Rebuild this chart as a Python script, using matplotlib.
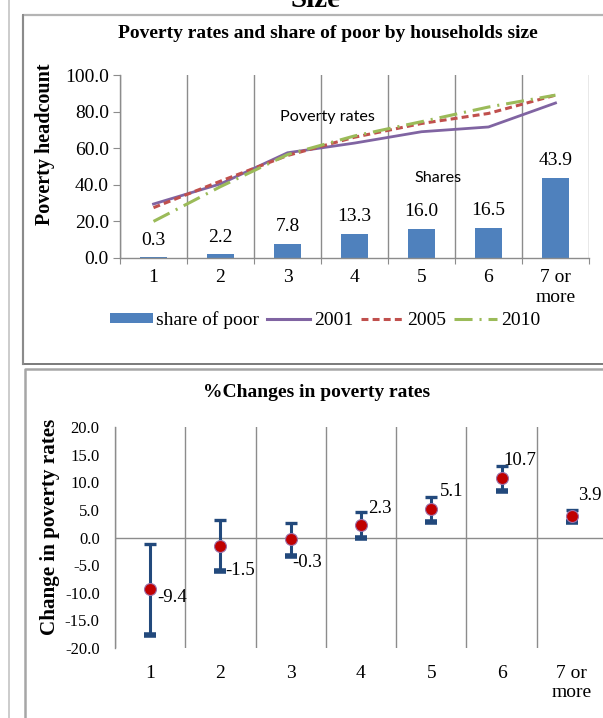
import matplotlib
matplotlib.use("Agg")
import matplotlib.pyplot as plt
from matplotlib.lines import Line2D
from matplotlib.patches import Patch
from matplotlib.ticker import FixedLocator, NullFormatter

plt.rcParams["font.family"] = ["Liberation Serif", "DejaVu Serif"]
plt.rcParams["lines.scale_dashes"] = False

# ---- data ----
categories = ["1", "2", "3", "4", "5", "6", "7 or\nmore"]
share_of_poor = [0.3, 2.2, 7.8, 13.3, 16.0, 16.5, 43.9]
rate_2001 = [29.5, 40.5, 57.5, 62.8, 69.0, 71.6, 84.7]
rate_2005 = [27.5, 42.0, 56.0, 66.0, 73.5, 79.0, 89.0]
rate_2010 = [20.0, 39.0, 56.5, 66.7, 74.5, 82.5, 89.0]
change_rates = [-9.4, -1.5, -0.3, 2.3, 5.1, 10.7, 3.9]
change_err = [8.2, 4.6, 3.0, 2.4, 2.3, 2.3, 1.1]

W, H = 603, 718
fig = plt.figure(figsize=(W / 100, H / 100), dpi=100)


def fx(px):
    return px / W


def fy(py):
    return 1 - py / H


GRID = "#8c8c8c"
FS = 14
xs = list(range(1, len(categories) + 1))
bounds = [i + 0.5 for i in range(0, len(categories) + 1)]

# ---- page decorations: frames around the two charts ----
fig.add_artist(Line2D([fx(8.5), fx(8.5)], [0, 1], transform=fig.transFigure,
                      color="#c4c4c4", lw=1.2))
fig.add_artist(Line2D([fx(23), fx(23), fx(610)], [fy(364), fy(15), fy(15)],
                      transform=fig.transFigure, color="#b4b4b4", lw=1.6))
fig.add_artist(Line2D([fx(23), fx(610)], [fy(364), fy(364)],
                      transform=fig.transFigure, color="#7a7a7a", lw=1.4))
fig.add_artist(Line2D([fx(23), fx(23)], [fy(364), fy(15)],
                      transform=fig.transFigure, color="#8a8a8a", lw=1.4))
fig.add_artist(Line2D([fx(25), fx(25), fx(610)], [fy(730), fy(369), fy(369)],
                      transform=fig.transFigure, color="#a6a6a6", lw=1.8))

fig.text(fx(315), fy(7.0), "Size", ha="center", va="baseline",
         fontsize=21, fontweight="bold")

# ---- top chart: poverty rates and share of poor ----
ax1 = fig.add_axes([fx(120), fy(258), fx(589) - fx(120), (258 - 75) / H])
ax1.set_xlim(0.5, len(categories) + 0.5)
ax1.set_ylim(0, 100)

ax1.bar(xs, share_of_poor, width=0.4, color="#4F81BD", zorder=2)
for x, v in zip(xs, share_of_poor):
    ax1.annotate(f"{v:.1f}", (x, v), xytext=(0, 6), textcoords="offset points",
                 ha="center", va="bottom", fontsize=FS)

ax1.plot(xs, rate_2001, color="#8064A2", lw=2.0, zorder=3)
ax1.plot(xs, rate_2005, color="#C0504D", lw=2.2, dashes=(5, 3), zorder=3)
ax1.plot(xs, rate_2010, color="#9BBB59", lw=2.2, dashes=(13, 5, 1.5, 5), zorder=3)

ax1.text(3.6, 77, "Poverty rates", family="Lato", fontsize=11.6,
         ha="center", va="center")
ax1.text(5.25, 43.5, "Shares", family="Lato", fontsize=11.6,
         ha="center", va="center")

ax1.xaxis.set_major_locator(FixedLocator(bounds))
ax1.xaxis.set_major_formatter(NullFormatter())
ax1.xaxis.set_minor_locator(FixedLocator(xs))
ax1.set_xticklabels(categories, minor=True)
ax1.tick_params(axis="x", which="minor", length=0, pad=8, labelsize=FS)
ax1.tick_params(axis="x", which="major", length=4, color=GRID)
ax1.set_yticks([0, 20, 40, 60, 80, 100])
ax1.set_yticklabels([f"{t:.1f}" for t in [0, 20, 40, 60, 80, 100]])
ax1.tick_params(axis="y", length=5, color=GRID, labelsize=FS, pad=3)
ax1.grid(axis="x", which="major", color=GRID, lw=1.0)
ax1.set_axisbelow(True)
for s in ["top", "right"]:
    ax1.spines[s].set_visible(False)
for s in ["left", "bottom"]:
    ax1.spines[s].set_color(GRID)
    ax1.spines[s].set_linewidth(1.0)

fig.text(fx(328), fy(33), "Poverty rates and share of poor by households size",
         ha="center", va="center", fontsize=14, fontweight="bold")
fig.text(fx(45), fy(144), "Poverty headcount", rotation=90, ha="center",
         va="center", fontsize=14.5, fontweight="bold")

handles = [
    Patch(facecolor="#4F81BD", edgecolor="none"),
    Line2D([], [], color="#8064A2", lw=2.2),
    Line2D([], [], color="#C0504D", lw=2.2, dashes=(5, 3)),
    Line2D([], [], color="#9BBB59", lw=2.2, dashes=(13, 5, 1.5, 5)),
]
fig.legend(handles, ["share of poor", "2001", "2005", "2010"], ncol=4,
           loc="center", bbox_to_anchor=(fx(325), fy(320)), frameon=False,
           fontsize=FS, handlelength=2.2, handleheight=0.42,
           handletextpad=0.2, columnspacing=0.4, borderaxespad=0)

# ---- bottom chart: changes in poverty rates ----
ax2 = fig.add_axes([fx(115), fy(648), fx(607) - fx(115), (648 - 427) / H])
ax2.set_xlim(0.5, len(categories) + 0.5)
ax2.set_ylim(-20, 20)

ax2.axhline(0, color=GRID, lw=1.0, zorder=1)
lower = [v - e for v, e in zip(change_rates, change_err)]
upper = [v + e for v, e in zip(change_rates, change_err)]
ECOL = "#22497C"
ax2.vlines(xs, lower, upper, color=ECOL, lw=2.2, zorder=2)
ax2.plot(xs, upper, ls="none", marker="_", ms=9, mew=2.4, color=ECOL, zorder=2)
ax2.plot(xs, lower, ls="none", marker="_", ms=9, mew=4.0, color=ECOL, zorder=2)
ax2.plot(xs, change_rates, ls="none", marker="o", ms=8.6, mfc="#C00000",
         mec="#9B6FA8", mew=0.8, zorder=3)

label_offsets = [(5, -6), (3.5, -18), (1, -16.5), (5, 11.5), (6.5, 13),
                 (1, 13), (4.5, 14.5)]
for x, v, off in zip(xs, change_rates, label_offsets):
    ax2.annotate(f"{v:.1f}", (x, v), xytext=off, textcoords="offset points",
                 ha="left", va="center", fontsize=13.5)

ax2.xaxis.set_major_locator(FixedLocator(bounds))
ax2.xaxis.set_major_formatter(NullFormatter())
ax2.xaxis.set_minor_locator(FixedLocator(xs))
ax2.set_xticklabels(categories, minor=True)
ax2.tick_params(axis="x", which="both", length=0)
ax2.tick_params(axis="x", which="minor", pad=12, labelsize=FS)
yt = [-20, -15, -10, -5, 0, 5, 10, 15, 20]
ax2.set_yticks(yt)
ax2.set_yticklabels([f"{t:.1f}" for t in yt])
ax2.tick_params(axis="y", length=0, labelsize=12, pad=11)
ax2.grid(axis="x", which="major", color=GRID, lw=1.0)
ax2.set_axisbelow(True)
for s in ["top", "right", "bottom"]:
    ax2.spines[s].set_visible(False)
ax2.spines["left"].set_color(GRID)
ax2.spines["left"].set_linewidth(1.0)

fig.text(fx(317), fy(393), "%Changes in poverty rates", ha="center",
         va="center", fontsize=14, fontweight="bold")
fig.text(fx(50), fy(527), "Change in poverty rates", rotation=90, ha="center",
         va="center", fontsize=15.2, fontweight="bold")

fig.savefig("out.png", dpi=100)
